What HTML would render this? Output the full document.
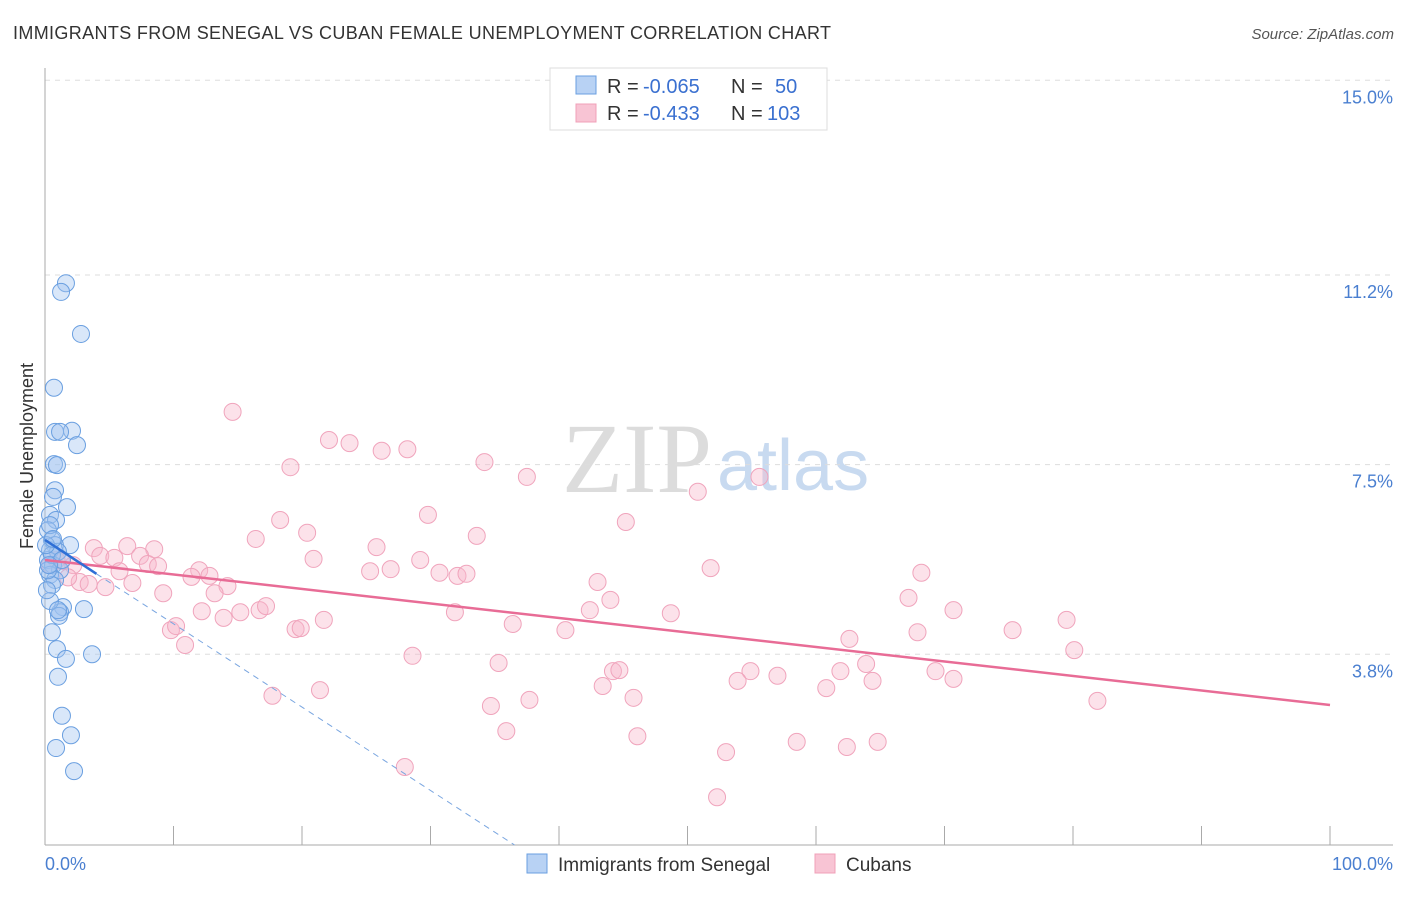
<!DOCTYPE html>
<html><head><meta charset="utf-8"><style>
body{margin:0;background:#fff;font-family:"Liberation Sans",sans-serif;}
</style></head><body>
<svg id="c" width="1406" height="892" xmlns="http://www.w3.org/2000/svg" font-family="Liberation Sans, sans-serif">
<text x="13" y="39" font-size="18" fill="#333" textLength="818">IMMIGRANTS FROM SENEGAL VS CUBAN FEMALE UNEMPLOYMENT CORRELATION CHART</text>
<text x="1394" y="39" font-size="15" fill="#555" text-anchor="end" font-style="italic">Source: ZipAtlas.com</text>
<text x="712" y="492" font-size="100" fill="#dcdcdc" text-anchor="end" style="font-family:'Liberation Serif',serif">ZIP</text>
<text x="717" y="490" font-size="72" fill="#c8daf0">atlas</text>
<g id="grid"></g>
<g id="axes"></g>
<g id="pts"></g>
<g id="lines"></g>
<text transform="translate(33,456) rotate(-90)" font-size="18" fill="#333" text-anchor="middle">Female Unemployment</text>
<text x="45" y="870" font-size="18" fill="#4a7fd0">0.0%</text>
<text x="1393" y="870" font-size="18" fill="#4a7fd0" text-anchor="end">100.0%</text>
<g>
<rect x="550" y="68" width="277" height="62" fill="#fff" stroke="#ddd"/>
<rect x="576" y="76" width="20" height="18" fill="#b8d2f4" stroke="#6a9fe0"/>
<rect x="576" y="104" width="20" height="18" fill="#f8c4d4" stroke="#f0a0b8"/>
<text x="607" y="93" font-size="20" fill="#333">R =</text>
<text x="643" y="93" font-size="20" fill="#3a70d0">-0.065</text>
<text x="731" y="93" font-size="20" fill="#333">N =</text>
<text x="775" y="93" font-size="20" fill="#3a70d0">50</text>
<text x="607" y="120" font-size="20" fill="#333">R =</text>
<text x="643" y="120" font-size="20" fill="#3a70d0">-0.433</text>
<text x="731" y="120" font-size="20" fill="#333">N =</text>
<text x="767" y="120" font-size="20" fill="#3a70d0">103</text>
</g>
<g>
<rect x="527" y="854" width="20" height="19" fill="#b8d2f4" stroke="#6a9fe0"/>
<text x="558" y="871" font-size="19" fill="#333">Immigrants from Senegal</text>
<rect x="815" y="854" width="20" height="19" fill="#f8c4d4" stroke="#f0a0b8"/>
<text x="846" y="871" font-size="19" fill="#333">Cubans</text>
</g>
</svg>
<script>
const yTicks=[3.8,7.5,11.2,15.0];
const yTickLabels=["3.8%","7.5%","11.2%","15.0%"];
const xTicks=[0,10,20,30,40,50,60,70,80,90,100];
const senegalX=[1.63,1.25,2.80,0.70,0.78,2.10,1.17,2.49,0.70,0.93,0.78,0.62,1.71,0.39,0.86,0.23,0.54,0.78,1.95,0.39,1.01,0.23,0.62,1.17,0.39,0.78,0.54,1.40,1.17,1.09,3.03,0.54,0.93,1.63,3.66,1.01,1.32,2.02,0.86,2.26,0.39,0.23,0.54,1.32,0.15,0.08,0.39,1.01,0.31,0.62];
const senegalY=[11.04,10.87,10.05,9.00,8.14,8.16,8.14,7.88,7.51,7.49,7.00,6.87,6.67,6.52,6.42,6.22,6.03,5.93,5.93,5.83,5.80,5.64,5.54,5.44,5.35,5.25,5.15,4.72,4.62,4.55,4.68,4.23,3.90,3.71,3.80,3.36,2.60,2.22,1.97,1.52,4.84,5.44,5.74,5.64,5.05,5.93,6.32,4.66,5.54,6.05];
const cubanX=[14.6,22.1,23.7,26.2,28.2,19.1,34.2,37.5,55.6,50.8,29.8,18.3,45.2,20.4,16.4,33.6,25.8,3.8,6.4,8.5,4.3,7.4,20.9,29.2,5.4,1.3,8.0,8.8,2.2,5.8,12.0,25.3,26.9,30.7,32.1,32.8,51.8,68.2,11.4,12.8,2.7,3.4,6.8,4.7,14.2,43.0,9.2,13.2,44.0,67.2,12.2,15.2,16.7,17.2,31.9,42.4,48.7,70.7,13.9,79.5,21.7,36.4,9.8,10.2,19.5,19.9,40.5,67.9,75.3,62.6,10.9,80.1,28.6,35.3,63.9,54.9,61.9,69.3,44.2,44.7,57.0,53.9,64.4,70.7,43.4,60.8,21.4,17.7,45.8,37.7,81.9,34.7,35.9,46.1,64.8,58.5,62.4,53.0,28.0,52.3,0.4,0.9,1.8];
const cubanY=[8.53,7.98,7.92,7.77,7.80,7.45,7.55,7.26,7.26,6.97,6.52,6.42,6.38,6.17,6.05,6.11,5.89,5.87,5.91,5.85,5.72,5.72,5.66,5.64,5.68,5.62,5.56,5.52,5.54,5.42,5.44,5.42,5.46,5.39,5.33,5.37,5.48,5.39,5.31,5.33,5.21,5.17,5.19,5.11,5.13,5.21,4.99,4.99,4.86,4.90,4.64,4.62,4.66,4.74,4.62,4.66,4.60,4.66,4.51,4.47,4.47,4.39,4.27,4.35,4.29,4.31,4.27,4.23,4.27,4.10,3.98,3.88,3.77,3.63,3.61,3.47,3.47,3.47,3.47,3.49,3.38,3.28,3.28,3.32,3.18,3.14,3.10,2.99,2.95,2.91,2.89,2.79,2.30,2.20,2.09,2.09,1.99,1.89,1.60,1.01,5.54,5.64,5.30];
const senegalTrend=[6.03,-0.165];
const cubanTrend=[5.64,-0.0283];
const NS="http://www.w3.org/2000/svg";
const X0=45,X1=1330,Y0=849,PPU=51.25;
const sx=v=>X0+(X1-X0)*v/100;
const sy=v=>Y0-v*PPU;
function mk(t,a,p){const e=document.createElementNS(NS,t);for(const k in a)e.setAttribute(k,a[k]);p.appendChild(e);return e;}
const grid=document.getElementById('grid'),axes=document.getElementById('axes'),pts=document.getElementById('pts'),lines=document.getElementById('lines');
yTicks.forEach((v,i)=>{
 const l=mk('line',{x1:X0,x2:1393,y1:sy(v),y2:sy(v),stroke:'#ddd','stroke-dasharray':'5,5'},grid);
 
 
 const t=mk('text',{x:1393,y:sy(v)+23,'font-size':18,fill:'#4a7fd0','text-anchor':'end'},grid);
 t.textContent=yTickLabels[i];
 
 
});
const ya=mk('line',{x1:X0,x2:X0,y1:68,y2:845,stroke:'#aaa'},axes);


const xa=mk('line',{x1:X0,x2:1393,y1:845,y2:845,stroke:'#aaa'},axes);


xTicks.forEach(v=>{
 const t=mk('line',{x1:sx(v),x2:sx(v),y1:826,y2:845,stroke:'#aaa'},axes);
 
 
});
cubanX.forEach((x,i)=>{
 const c=mk('circle',{cx:sx(x),cy:sy(cubanY[i]),r:8.5,fill:'rgba(248,182,202,0.4)',stroke:'#f0a4bc','stroke-width':1},pts);
 
 
});
senegalX.forEach((x,i)=>{
 const c=mk('circle',{cx:sx(x),cy:sy(senegalY[i]),r:8.5,fill:'rgba(160,196,240,0.4)',stroke:'#6a9fe0','stroke-width':1},pts);
 
 
});
const ct=mk('line',{x1:sx(0),y1:sy(cubanTrend[0]),x2:sx(100),y2:sy(cubanTrend[0]+100*cubanTrend[1]),stroke:'#e86c96','stroke-width':2.5},lines);


const sEnd=-senegalTrend[0]/senegalTrend[1];
const sd=mk('line',{x1:sx(4),y1:sy(senegalTrend[0]+4*senegalTrend[1]),x2:sx(sEnd),y2:sy(0)-4,stroke:'#7aa6e0','stroke-width':1,'stroke-dasharray':'6,5'},lines);


const ss=mk('line',{x1:sx(0),y1:sy(senegalTrend[0]),x2:sx(4),y2:sy(senegalTrend[0]+4*senegalTrend[1]),stroke:'#2f6fd6','stroke-width':2.5},lines);


</script>
</body></html>
